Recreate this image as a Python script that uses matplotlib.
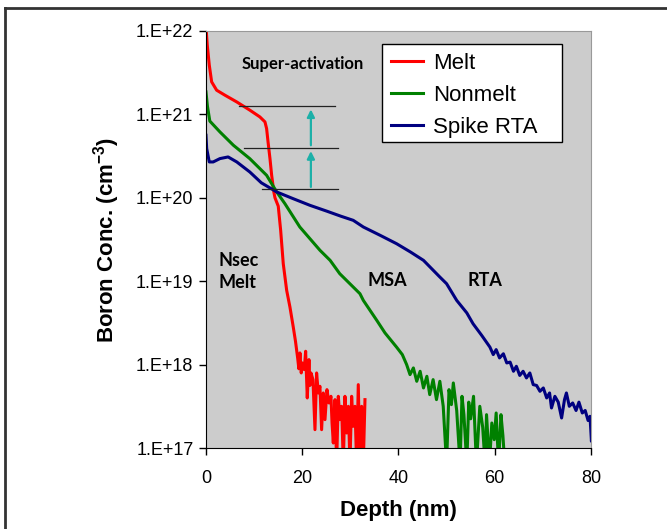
import numpy as np
import matplotlib.pyplot as plt
from matplotlib.lines import Line2D
from matplotlib.patches import Rectangle
from matplotlib.ticker import FixedLocator, FuncFormatter

# Melt profile (depth in nm, log10 of concentration)
melt_depth = [0, 0.27, 0.69, 1.18, 2.22, 3.95, 6.38, 9.14, 11.2, 12.26, 12.6, 12.9,
              13.3, 13.65, 14.1, 14.34, 15.02, 15.52, 16.06, 16.77, 17.45, 18.14, 18.6,
              19.05, 19.3, 19.53, 19.8, 20.02, 20.43, 20.71, 21.05, 21.40, 21.6, 21.82, 22.23, 22.65,
              22.99, 23.34, 23.68, 24.03, 24.38, 24.73, 25.14, 25.56, 25.97, 26.2, 26.46,
              26.81, 27.15, 27.50, 27.84, 28.19, 28.54, 28.88, 29.23, 29.58, 29.92,
              30.27, 30.61, 30.96, 31.31, 31.65, 32.00, 32.35, 32.69, 33.04]
melt_log = [22.05, 21.83, 21.59, 21.39, 21.29, 21.23, 21.15, 21.05, 20.97, 20.91, 20.83, 20.67,
            20.47, 20.27, 20.07, 20.00, 19.90, 19.61, 19.21, 18.89, 18.69, 18.45, 18.28,
            18.08, 17.95, 18.14, 17.90, 18.02, 17.94, 18.16, 17.60, 18.06, 17.75, 17.90, 17.82, 17.22,
            17.90, 17.66, 17.74, 17.22, 17.66, 17.34, 17.70, 17.54, 17.62, 17.30, 17.06,
            17.58, 16.80, 17.62, 17.34, 17.50, 16.80, 17.62, 17.18, 17.50, 16.80,
            17.62, 17.26, 17.50, 16.80, 17.76, 16.80, 17.50, 16.80, 17.58]

# Nonmelt profile
nonmelt_depth = [0, 0.3, 0.8, 2.9, 5.7, 9.1, 12.6, 14.7, 16.4, 19.5, 23.7, 25.8, 27.8,
                 29.2, 32.0, 32.7, 35.5, 37.2, 39.6, 40.8,
                 41.7, 42.4, 43.1, 43.8, 44.5, 45.2, 45.9, 46.5, 47.2, 47.9, 48.6, 49.3,
                 50.0, 50.5, 51.0, 51.4, 52.1, 52.8, 53.2, 53.6, 54.2, 54.6, 55.0, 55.6,
                 56.2, 56.9, 57.5, 58.0, 58.3, 58.9, 59.4, 59.9, 60.3, 60.8, 61.3, 61.7, 62.1]
nonmelt_log = [21.27, 21.10, 20.92, 20.79, 20.63, 20.47, 20.27, 20.07, 19.93, 19.65, 19.37, 19.25, 19.09,
               19.01, 18.85, 18.77, 18.53, 18.38, 18.21, 18.12,
               18.00, 17.88, 17.96, 17.80, 17.92, 17.72, 17.86, 17.64, 17.82, 17.58, 17.80, 17.50,
               16.80, 17.70, 17.52, 17.78, 17.45, 16.80, 17.62, 17.40, 16.80, 17.55, 17.35, 17.62,
               16.80, 17.50, 17.25, 16.80, 17.40, 16.80, 17.30, 17.10, 17.42, 16.80, 17.40, 17.15, 16.80]

# Spike RTA profile
rta_depth = [0, 0.15, 0.69, 1.5, 2.9, 4.6, 6.4, 9.1, 11.5, 14.7, 18.1, 21.6, 25.1, 28.0,
             30.6, 32.7, 36.2, 39.6, 42.5, 45.2, 48.6, 50.0, 52.1, 54.2, 55.5, 57.3,
             59.0, 59.7, 60.3, 61.0, 61.8, 62.5, 63.2, 63.9, 64.5, 65.2, 65.9, 66.6,
             67.3, 68.0, 68.7, 69.4, 70.1, 70.8, 71.4, 71.8, 72.5, 73.2, 73.9, 74.5,
             74.9, 75.5, 76.2, 76.9, 77.5, 78.2, 78.8, 79.4, 79.8, 80.1, 80.3]
rta_log = [20.75, 20.59, 20.43, 20.43, 20.47, 20.49, 20.43, 20.31, 20.18, 20.07, 19.99, 19.91, 19.84, 19.78,
           19.73, 19.65, 19.55, 19.45, 19.35, 19.25, 19.05, 18.97, 18.77, 18.62, 18.49, 18.35,
           18.21, 18.12, 18.18, 18.08, 18.13, 18.02, 18.03, 17.92, 17.98, 17.87, 17.92, 17.84,
           17.90, 17.76, 17.75, 17.68, 17.72, 17.60, 17.66, 17.48, 17.62, 17.55, 17.36, 17.58,
           17.66, 17.50, 17.54, 17.45, 17.55, 17.42, 17.45, 17.33, 17.38, 17.08, 17.30]

# reference levels (log10) and their depth spans
level_log = [21.10, 20.60, 20.11]
level_start = [6.9, 7.9, 11.6]
level_end = [26.8, 27.5, 27.5]
arrow_x = 21.8
arrows = [(20.13, 20.56), (20.63, 21.06)]

plt.rcParams['mathtext.fontset'] = 'custom'
plt.rcParams['mathtext.rm'] = 'Liberation Sans'
plt.rcParams['mathtext.bf'] = 'Liberation Sans:bold'

fig = plt.figure(figsize=(6.67, 5.29), dpi=100)
ax = fig.add_axes([0.3088, 0.1531, 0.5772, 0.7883])
ax.set_facecolor('#cccccc')

ax.plot(melt_depth, 10 ** np.array(melt_log), color='#ff0000', lw=2.2, label='Melt')
ax.plot(nonmelt_depth, 10 ** np.array(nonmelt_log), color='#008000', lw=2.2, label='Nonmelt')
ax.plot(rta_depth, 10 ** np.array(rta_log), color='#000080', lw=2.2, label='Spike RTA')

for lv, x0, x1 in zip(level_log, level_start, level_end):
    ax.plot([x0, x1], [10 ** lv, 10 ** lv], color='#222222', lw=0.9)

for y0, y1 in arrows:
    ax.annotate('', xy=(arrow_x, 10 ** y1), xytext=(arrow_x, 10 ** y0),
                arrowprops=dict(arrowstyle='-|>', color='#1cb0a8', lw=1.6,
                                mutation_scale=11, shrinkA=0, shrinkB=0))

ax.set_yscale('log')
ax.set_xlim(0, 80)
ax.set_ylim(1e17, 1e22)
ax.set_xticks([0, 20, 40, 60, 80])
ax.yaxis.set_major_locator(FixedLocator([1e17, 1e18, 1e19, 1e20, 1e21, 1e22]))
ax.yaxis.set_minor_locator(FixedLocator([]))
ax.yaxis.set_major_formatter(FuncFormatter(lambda v, p: '1.E+%d' % round(np.log10(v))))

tickfont = 'Liberation Sans'
for lab in ax.get_xticklabels() + ax.get_yticklabels():
    lab.set_fontfamily(tickfont)
ax.tick_params(axis='both', direction='out', length=5, width=1, labelsize=13, color='black')
ax.tick_params(axis='x', pad=11)
ax.tick_params(axis='y', pad=4)

for s in ['top', 'right']:
    ax.spines[s].set_color('#999999')
for s in ['left', 'bottom']:
    ax.spines[s].set_color('black')

ax.set_xlabel('Depth (nm)', fontsize=16, fontweight='bold', family=tickfont, labelpad=9)
ax.set_ylabel(r'Boron Conc. (cm$^{\mathbf{-3}}$)', fontsize=16, fontweight='bold', family=tickfont,
              labelpad=10)

txtfont = 'Lato'
ax.text(20.2, 10 ** 21.61, 'Super-activation', fontsize=12, fontweight='bold', family=txtfont,
        ha='center', va='center')
ax.text(2.5, 10 ** 19.12, 'Nsec\nMelt', fontsize=13, fontweight='bold', family=txtfont,
        ha='left', va='center', linespacing=1.35)
ax.text(37.6, 10 ** 19.01, 'MSA', fontsize=13, fontweight='bold', family=txtfont, ha='center', va='center')
ax.text(58.0, 10 ** 19.01, 'RTA', fontsize=13, fontweight='bold', family=txtfont, ha='center', va='center')

# legend box drawn separately (wider than its entries, like the original)
ax.add_patch(Rectangle((0.457, 0.734), 0.468, 0.235, transform=ax.transAxes,
                       facecolor='white', edgecolor='black', lw=1.0, zorder=4))
leg = ax.legend(loc='upper left', bbox_to_anchor=(0.457, 0.969),
                prop={'family': tickfont, 'size': 16}, frameon=False, handlelength=1.45,
                handletextpad=0.45, borderpad=0.4, labelspacing=0.5, borderaxespad=0)
leg.set_zorder(5)

# figure border (top and left only, as cropped)
fig.add_artist(Line2D([0.0075, 1.0], [0.985, 0.985], color='#333333', lw=2, transform=fig.transFigure))
fig.add_artist(Line2D([0.0075, 0.0075], [0.0, 0.985], color='#333333', lw=2, transform=fig.transFigure))

fig.savefig('out.png', dpi=100)
